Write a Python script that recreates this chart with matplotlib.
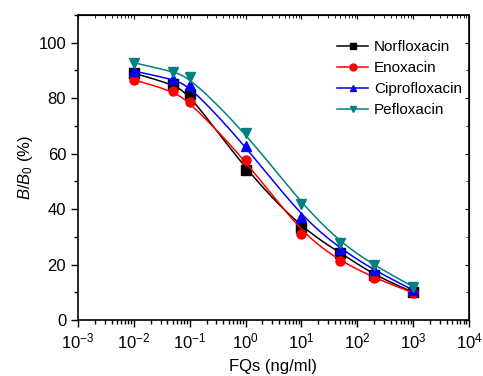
import numpy as np
import matplotlib
matplotlib.use('Agg')
import matplotlib.pyplot as plt
from matplotlib.ticker import LogLocator, MultipleLocator, NullFormatter

plt.rcParams['font.family'] = ['Liberation Sans', 'DejaVu Sans']
plt.rcParams['mathtext.fontset'] = 'custom'
plt.rcParams['mathtext.rm'] = 'Liberation Sans'
plt.rcParams['mathtext.it'] = 'Liberation Sans:italic'

conc = [0.01, 0.05, 0.1, 1, 10, 50, 200, 1000]
norfloxacin = [89, 85, 81.6, 54, 33, 24.2, 16.2, 10]
enoxacin = [86.6, 82.6, 78.6, 57.8, 31.1, 21.2, 15.2, 9.8]
ciprofloxacin = [89.8, 86.8, 84.6, 62.8, 37.1, 25.7, 17.9, 10.8]
pefloxacin = [92.8, 89.6, 87.6, 67.6, 41.9, 27.9, 19.7, 12]

series = [
    ('Norfloxacin', norfloxacin, 'black', 's'),
    ('Enoxacin', enoxacin, 'red', 'o'),
    ('Ciprofloxacin', ciprofloxacin, 'blue', '^'),
    ('Pefloxacin', pefloxacin, '#008080', 'v'),
]


def bspline(xs, ys, n=40):
    # uniform cubic B-spline with the points as control points, clamped ends
    px = np.concatenate([[xs[0]] * 2, xs, [xs[-1]] * 2])
    py = np.concatenate([[ys[0]] * 2, ys, [ys[-1]] * 2])
    t = np.linspace(0, 1, n)
    b0 = (1 - t) ** 3 / 6
    b1 = (3 * t ** 3 - 6 * t ** 2 + 4) / 6
    b2 = (-3 * t ** 3 + 3 * t ** 2 + 3 * t + 1) / 6
    b3 = t ** 3 / 6
    ox, oy = [], []
    for i in range(len(px) - 3):
        ox.append(b0 * px[i] + b1 * px[i + 1] + b2 * px[i + 2] + b3 * px[i + 3])
        oy.append(b0 * py[i] + b1 * py[i + 1] + b2 * py[i + 2] + b3 * py[i + 3])
    return np.concatenate(ox), np.concatenate(oy)


fig = plt.figure(figsize=(4.83, 3.76), dpi=100)
ax = fig.add_axes([0.1615, 0.149, 0.8095, 0.811])

lx = np.log10(conc)
for name, vals, color, marker in series:
    sx, sy = bspline(lx, np.array(vals, dtype=float))
    ax.plot(10 ** sx, sy, color=color, lw=1.1)
    ax.plot(conc, vals, linestyle='none', marker=marker, color=color, ms=6.5)
    ax.plot([], [], color=color, lw=1.1, marker=marker, ms=5, label=name)

ax.set_xscale('log')
ax.set_xlim(1e-3, 1e4)
ax.set_ylim(0, 110)
ax.xaxis.set_major_locator(LogLocator(base=10, numticks=20))
ax.xaxis.set_minor_locator(LogLocator(base=10, subs=np.arange(2, 10), numticks=20))
ax.xaxis.set_minor_formatter(NullFormatter())
ax.yaxis.set_major_locator(MultipleLocator(20))
ax.yaxis.set_minor_locator(MultipleLocator(10))

ax.tick_params(which='major', direction='out', length=5, width=1, labelsize=12)
ax.tick_params(which='minor', direction='out', length=3, width=1)
for s in ax.spines.values():
    s.set_linewidth(1.2)

top = ax.secondary_xaxis('top')
top.xaxis.set_minor_locator(LogLocator(base=10, subs=np.arange(2, 10), numticks=20))
top.tick_params(which='major', direction='in', length=3, labeltop=False)
top.tick_params(which='minor', direction='in', length=2)
right = ax.secondary_yaxis('right')
right.yaxis.set_major_locator(MultipleLocator(20))
right.yaxis.set_minor_locator(MultipleLocator(10))
right.tick_params(which='major', direction='in', length=3, labelright=False)
right.tick_params(which='minor', direction='in', length=2)

ax.set_xlabel('FQs (ng/ml)', fontsize=12, labelpad=5)
ax.set_ylabel('$B/B_0$ (%)', fontsize=12, labelpad=2.5)

ax.legend(loc='upper right', bbox_to_anchor=(0.998, 0.937), frameon=False, fontsize=11,
          labelspacing=0.46, handlelength=2, handletextpad=0.4, borderaxespad=0)

fig.savefig('out.png', dpi=100)
